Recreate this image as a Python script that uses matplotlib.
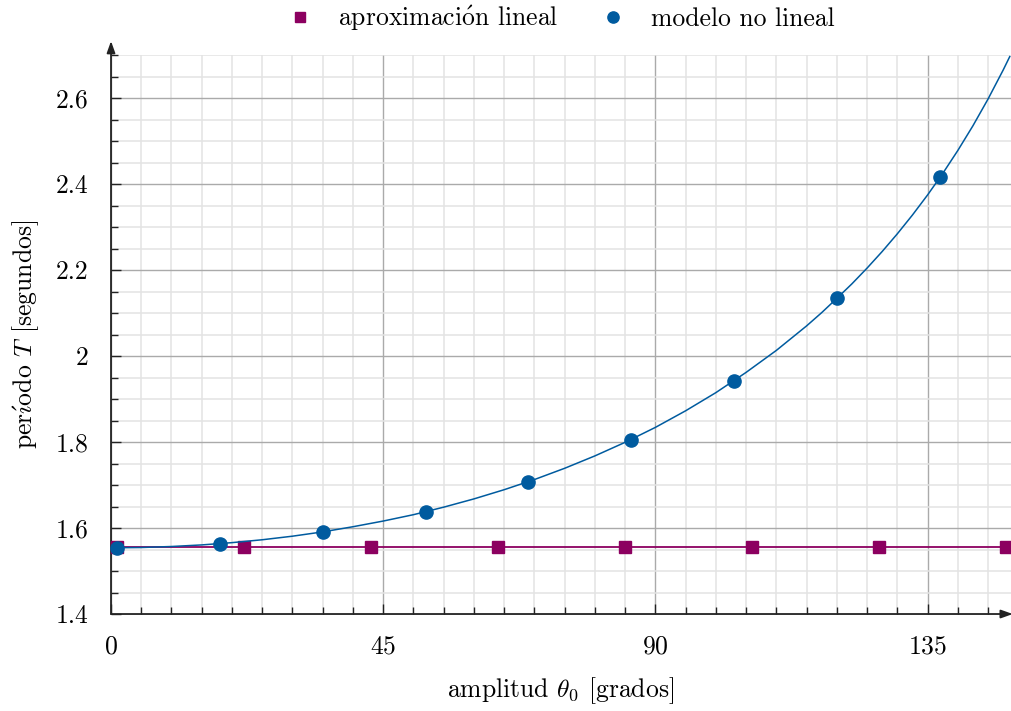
import matplotlib
matplotlib.use("Agg")
import matplotlib.pyplot as plt
from matplotlib.ticker import MultipleLocator, FuncFormatter

plt.rcParams["font.family"] = ["cmr10", "DejaVu Serif"]
plt.rcParams["mathtext.fontset"] = "cm"
plt.rcParams["axes.formatter.use_mathtext"] = True

# curve (amplitude in degrees, period in seconds)
curve_deg = [0, 5, 10, 15, 20, 25, 30, 35, 40, 45, 50, 55, 60, 65, 70, 75, 80, 85,
             90, 95, 100, 105, 110, 115, 117.5, 120, 122.5, 125, 127.5, 130, 132.5,
             135, 137.5, 140, 142.5, 145, 147.5, 148.6]
curve_T = [1.554, 1.5547, 1.557, 1.5607, 1.566, 1.5727, 1.581, 1.591, 1.603, 1.6162,
           1.631, 1.6485, 1.6677, 1.6891, 1.7127, 1.7389, 1.7677, 1.7993, 1.834,
           1.8726, 1.9148, 1.9619, 2.013, 2.070, 2.1009, 2.134, 2.1679, 2.2044,
           2.243, 2.2841, 2.3278, 2.3744, 2.4243, 2.4778, 2.5353, 2.5975, 2.6649,
           2.6965]

# markers of the nonlinear model
nl_deg = [1, 18, 35, 52, 69, 86, 103, 120, 137]
nl_T = [1.554, 1.564, 1.591, 1.638, 1.708, 1.805, 1.943, 2.134, 2.416]

# linear approximation
lin_deg = [1, 22, 43, 64, 85, 106, 127, 148]
lin_T = [1.555, 1.555, 1.555, 1.555, 1.555, 1.555, 1.555, 1.555]
lin_line_deg = [0, 148.8]
lin_line_T = [1.555, 1.555]

PURPLE = "#8c0060"
BLUE = "#005b9f"
FS = 18.5

fig = plt.figure(figsize=(10.12, 7.11), dpi=100)
ax = fig.add_axes([0.1097, 0.1364, 0.8893, 0.7862])

ax.set_xlim(0, 148.8)
ax.set_ylim(1.4, 2.7)

ax.xaxis.set_major_locator(MultipleLocator(45))
ax.xaxis.set_minor_locator(MultipleLocator(5))
ax.yaxis.set_major_locator(MultipleLocator(0.2))
ax.yaxis.set_minor_locator(MultipleLocator(0.05))
ax.yaxis.set_major_formatter(FuncFormatter(lambda v, p: f"{v:g}"))

ax.grid(which="minor", color="#e3e3e3", lw=1.1, zorder=0)
ax.grid(which="major", color="#aaaaaa", lw=1.0, zorder=0)
ax.set_axisbelow(True)

for s in ["top", "right", "bottom", "left"]:
    ax.spines[s].set_visible(False)

ax.tick_params(which="major", direction="in", length=7, width=1.0, color="#222222",
               labelsize=FS)
ax.tick_params(which="minor", direction="in", length=5, width=1.0, color="#222222")
ax.tick_params(axis="y", which="major", pad=16)
ax.tick_params(axis="x", which="major", pad=15)

# axis arrows
arrow = dict(arrowstyle="-|>,head_length=0.7,head_width=0.25", color="#222222",
             lw=1.3, shrinkA=0, shrinkB=0)
ax.annotate("", xy=(1.002, 0), xytext=(0, 0), xycoords="axes fraction",
            arrowprops=arrow, annotation_clip=False)
ax.annotate("", xy=(0, 1.025), xytext=(0, 0), xycoords="axes fraction",
            arrowprops=arrow, annotation_clip=False)

ax.plot(lin_line_deg, lin_line_T, color=PURPLE, lw=1.3, zorder=3)
ax.plot(lin_deg, lin_T, ls="none", marker="s", ms=8.5, color=PURPLE, zorder=4,
        clip_on=False, label=r"aproximaci$\acute{\mathrm{o}}$n lineal")
ax.plot(curve_deg, curve_T, color=BLUE, lw=1.1, zorder=5)
ax.plot(nl_deg, nl_T, ls="none", marker="o", ms=9.5, color=BLUE, zorder=6,
        clip_on=False, label="modelo no lineal")

ax.set_xlabel(r"amplitud $\theta_0$ [grados]", fontsize=FS, labelpad=12)
ax.set_ylabel(r"per$\acute{\imath}$odo $T$ [segundos]", fontsize=FS, labelpad=11)

ax.legend(loc="center", bbox_to_anchor=(0.5, 1.066), ncol=2, frameon=False,
          fontsize=FS, handlelength=1.0, handletextpad=1.0, columnspacing=1.6,
          markerscale=0.85)

fig.savefig("out.png", dpi=100)
